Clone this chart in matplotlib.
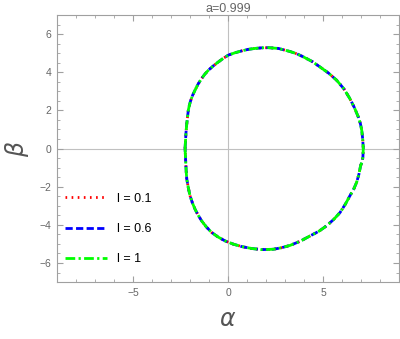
import numpy as np
import matplotlib.pyplot as plt

plt.rcParams['font.family'] = ['Liberation Sans', 'DejaVu Sans']

# shadow contour (closed, going round counter-clockwise from the left)
alpha = [-2.26, -2.24, -2.21, -2.17, -2.13, -2.09, -2.03, -1.96, -1.86, -1.74, -1.58,
         -1.39, -1.22, -1.04, -0.78, -0.51, -0.25, 0.02, 0.36, 0.72, 1.06, 1.42, 1.77,
         2.12, 2.65, 3.26, 3.62, 3.96, 4.42, 4.84, 5.30, 5.72, 6.10, 6.42, 6.66, 6.86,
         6.97, 7.04, 7.09, 7.12,
         7.10, 7.06, 6.98, 6.89, 6.77, 6.62, 6.42, 6.18, 5.90, 5.57, 5.19, 4.78, 4.32,
         3.80, 3.26, 2.82, 2.39, 1.77, 1.24, 0.72, 0.27, -0.16, -0.52, -0.86, -1.14,
         -1.39, -1.58, -1.74, -1.88, -2.00, -2.09, -2.17, -2.20, -2.22, -2.24, -2.26]
beta = [0.00, 0.35, 0.85, 1.30, 1.65, 2.00, 2.28, 2.53, 2.80, 3.05, 3.37,
        3.67, 3.90, 4.10, 4.33, 4.54, 4.73, 4.90, 5.02, 5.12, 5.20, 5.25, 5.28,
        5.29, 5.25, 5.09, 4.97, 4.81, 4.57, 4.28, 3.95, 3.58, 3.13, 2.61, 2.13, 1.65,
        1.30, 0.95, 0.50, 0.00,
        -0.45, -0.70, -0.89, -1.35, -1.77, -2.12, -2.47, -2.91, -3.35, -3.71, -4.05, -4.34, -4.58,
        -4.86, -5.08, -5.20, -5.28, -5.30, -5.24, -5.14, -5.01, -4.84, -4.64, -4.40, -4.11,
        -3.79, -3.48, -3.17, -2.83, -2.47, -2.05, -1.60, -1.20, -0.80, -0.40, 0.00]

l_vals = ['0.1', '0.6', '1']
colors = ['red', 'blue', 'lime']
dashes = [(0.6, 1.6), (2.6, 1.2), (3.5, 1.2, 0.8, 1.2)]

fig = plt.figure(figsize=(4.0, 3.39), dpi=100)
ax = fig.add_axes([0.1425, 0.168, 0.855, 0.7876])

ax.axhline(0, color='#c0c0c0', lw=0.8, zorder=0)
ax.axvline(0, color='#c0c0c0', lw=0.8, zorder=0)

for lv, c, d in zip(l_vals, colors, dashes):
    ax.plot(alpha, beta, color=c, lw=2.0, dashes=d, label='l = ' + lv)

ax.set_xlim(-9, 9)
ax.set_ylim(-7, 7)

ax.set_xticks([-5, 0, 5])
ax.set_xticks(np.arange(-9, 10, 1), minor=True)
ax.set_yticks([-6, -4, -2, 0, 2, 4, 6])
ax.set_yticks(np.arange(-7, 7.5, 0.5), minor=True)
ax.set_yticklabels(['\u22126', '\u22124', '\u22122', '0', '2', '4', '6'])
ax.set_xticklabels(['\u22125', '0', '5'])

for s in ax.spines.values():
    s.set_color('#a0a0a0')
    s.set_linewidth(0.8)
ax.tick_params(which='both', direction='in', top=True, right=True, color='#a0a0a0',
               labelcolor='#666666', labelsize=7.5)
ax.tick_params(which='major', length=4, width=0.8, pad=4)
ax.tick_params(which='minor', length=2, width=0.6)

ax.set_xlabel(r'$\alpha$', fontsize=17, color='#555555', labelpad=8)
ax.set_ylabel(r'$\beta$', fontsize=17, color='#555555', labelpad=6)
ax.set_title('a=0.999', fontsize=9, color='#666666', pad=2)

ax.legend(loc='lower left', bbox_to_anchor=(0.01, 0.045), borderaxespad=0,
          frameon=False, fontsize=9, handlelength=3.3, handletextpad=0.8,
          labelspacing=1.45)

fig.savefig('out.png', dpi=100)
